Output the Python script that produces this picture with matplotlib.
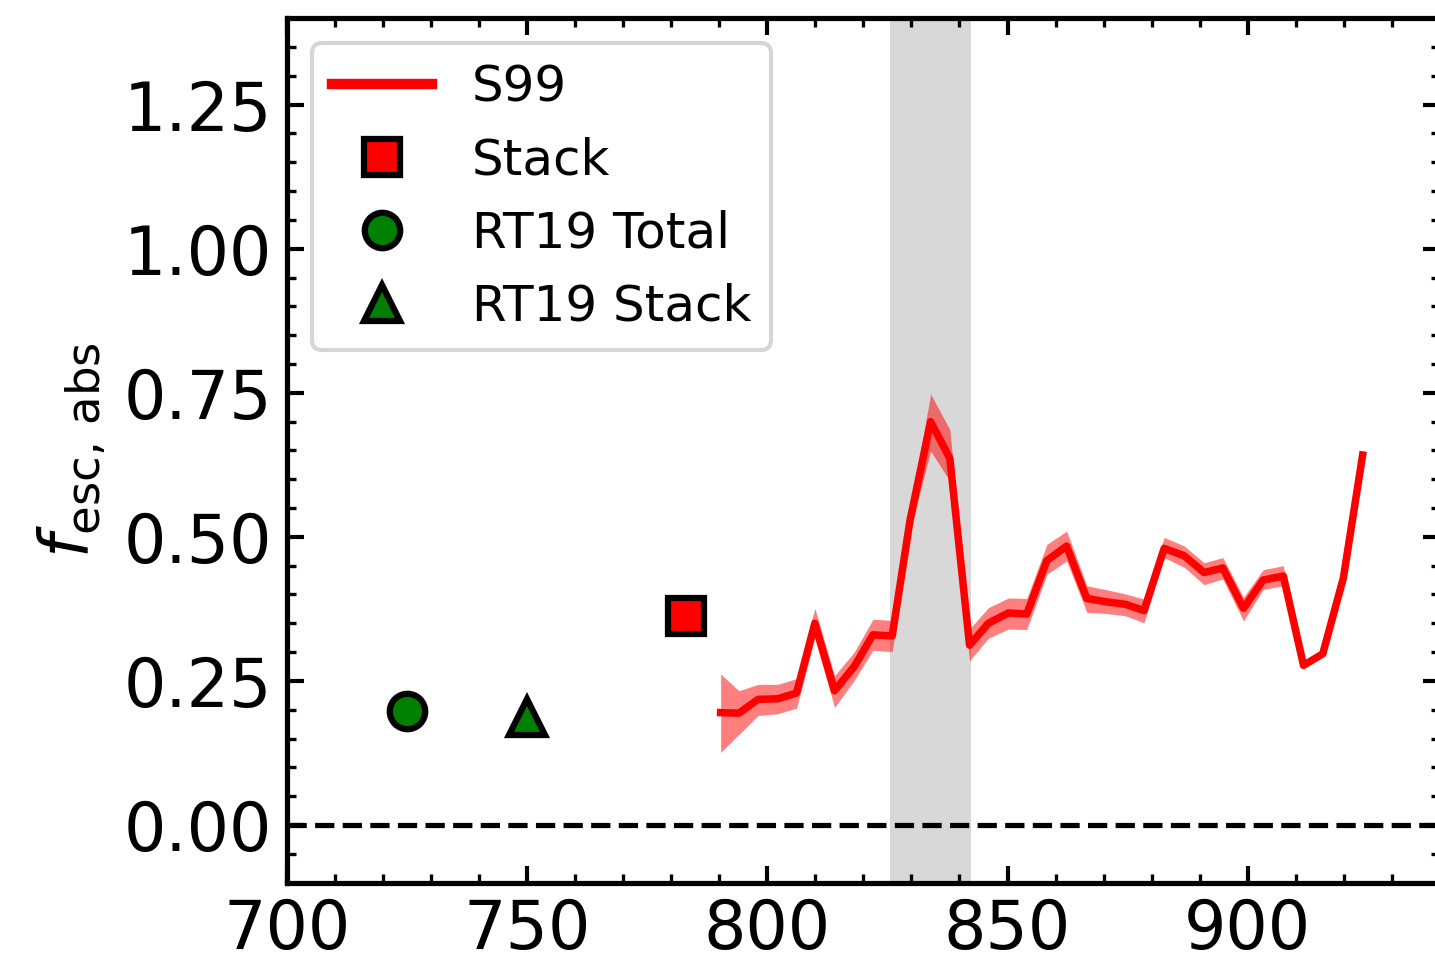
import matplotlib

matplotlib.use("Agg")

import matplotlib.pyplot as plt
from matplotlib.lines import Line2D
from matplotlib.ticker import MultipleLocator

# S99 escape fraction vs wavelength, with its 1-sigma band
wave = [790.3, 794.1, 798.1, 802.2, 806.1, 809.9, 814.0, 818.1, 822.0, 826.0,
        829.7, 834.0, 838.0, 842.1, 846.0, 850.2, 854.0, 858.2, 862.3, 866.5,
        870.7, 874.5, 878.4, 882.6, 886.8, 890.9, 894.8, 899.1, 903.2, 907.4,
        911.6, 915.6, 919.9, 923.9]
fesc = [0.195, 0.194, 0.218, 0.219, 0.229, 0.350, 0.233, 0.275, 0.330, 0.328,
        0.528, 0.700, 0.636, 0.312, 0.350, 0.368, 0.366, 0.459, 0.484, 0.393,
        0.387, 0.383, 0.372, 0.480, 0.467, 0.438, 0.446, 0.376, 0.425, 0.432,
        0.277, 0.297, 0.429, 0.642]
fesc_hi = [0.262, 0.233, 0.244, 0.244, 0.254, 0.376, 0.259, 0.300, 0.357, 0.355,
           0.545, 0.748, 0.686, 0.340, 0.377, 0.394, 0.393, 0.487, 0.510, 0.415,
           0.408, 0.401, 0.392, 0.499, 0.484, 0.455, 0.464, 0.395, 0.443, 0.450,
           0.281, 0.301, 0.433, 0.646]
fesc_lo = [0.126, 0.157, 0.190, 0.193, 0.203, 0.324, 0.204, 0.251, 0.303, 0.301,
           0.510, 0.649, 0.597, 0.285, 0.324, 0.340, 0.339, 0.435, 0.458, 0.369,
           0.367, 0.363, 0.351, 0.464, 0.447, 0.417, 0.427, 0.354, 0.409, 0.415,
           0.273, 0.293, 0.425, 0.638]

# single-point measurements
stack_x, stack_y = [783.0], [0.362]
rt19_total_x, rt19_total_y = [725.0], [0.198]
rt19_stack_x, rt19_stack_y = [750.0], [0.187]

band_lo, band_hi = 825.5, 842.5

plt.rcParams["font.family"] = ["DejaVu Sans"]

fig = plt.figure(figsize=(1435 / 300, 956 / 300), dpi=300)
ax = fig.add_axes([286.7 / 1435, 1 - 882.6 / 956, (1440.0 - 286.7) / 1435, (882.6 - 18.2) / 956])

ax.axvspan(band_lo, band_hi, color="gray", alpha=0.3, lw=0, zorder=0)
ax.axhline(0, color="k", ls="--", lw=1.25, zorder=1)
ax.fill_between(wave, fesc_lo, fesc_hi, color="red", alpha=0.5, lw=0, zorder=2)
ax.plot(wave, fesc, color="red", lw=1.8, zorder=3)

mk = dict(ls="none", ms=8.5, mec="k", mew=1.5, zorder=5)
ax.plot(stack_x, stack_y, marker="s", mfc="red", **mk)
ax.plot(rt19_total_x, rt19_total_y, marker="o", mfc="green", **mk)
ax.plot(rt19_stack_x, rt19_stack_y, marker="^", mfc="green", **mk)

handles = [
    Line2D([], [], color="red", lw=2.5),
    Line2D([], [], marker="s", mfc="red", **mk),
    Line2D([], [], marker="o", mfc="green", **mk),
    Line2D([], [], marker="^", mfc="green", **mk),
]
labels = ["S99", "Stack", "RT19 Total", "RT19 Stack"]
ax.legend(handles, labels, loc="upper left", fontsize=12)

ax.set_xlim(700, 940)
ax.set_ylim(-0.1, 1.4)
ax.xaxis.set_major_locator(MultipleLocator(50))
ax.xaxis.set_minor_locator(MultipleLocator(10))
ax.yaxis.set_major_locator(MultipleLocator(0.25))
ax.yaxis.set_minor_locator(MultipleLocator(0.05))
ax.tick_params(which="both", direction="in", top=True, right=True, labelsize=16)
ax.tick_params(which="major", length=4, width=1.0)
ax.tick_params(which="minor", length=2.2, width=0.8)
for spine in ax.spines.values():
    spine.set_linewidth(1.25)

ax.set_ylabel(r"$f_{\rm esc,\,abs}$", fontsize=16)

fig.savefig("out.png", dpi=300)
